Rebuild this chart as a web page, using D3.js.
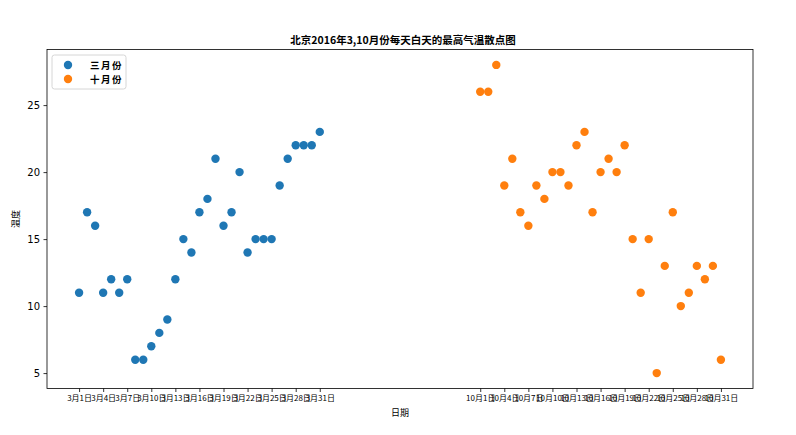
<!DOCTYPE html>
<html><head><meta charset="utf-8">
<script src="https://cdn.jsdelivr.net/npm/d3@7"></script>
<style>body{margin:0;background:#fff}svg{display:block}</style>
</head><body>
<svg id="chart" width="796" height="435"></svg>
<script>
const marchTemps = [11,17,16,11,12,11,12,6,6,7,8,9,12,15,14,17,18,21,16,17,20,14,15,15,15,19,21,22,22,22,23];
const octTemps = [26,26,28,19,21,17,16,19,18,20,20,19,22,23,17,20,21,20,22,15,11,15,5,13,17,10,11,13,12,13,6];
const marchX = d3.range(1, 32);
const octX = d3.range(51, 82);
const marchTickLabels = d3.range(1, 32, 3).map(d => `3月${d}日`);
const octTickLabels = d3.range(1, 32, 3).map(d => `10月${d}日`);
const yTicks = [5, 10, 15, 20, 25];
const seriesNames = ["三月份", "十月份"];
const colors = ["#1f77b4", "#ff7f0e"];
const title = "北京2016年3,10月份每天白天的最高气温散点图";

const font = "'Noto Sans CJK SC', 'DejaVu Sans', sans-serif";
const svg = d3.select("#chart");
const L = 47, R = 753, T = 49.5, B = 388.5;
const x = d3.scaleLinear().domain([-3, 85]).range([L, R]);
const y = d3.scaleLinear().domain([3.85, 29.15]).range([B, T]);

// points
const series = [marchX.map((d, i) => [d, marchTemps[i]]), octX.map((d, i) => [d, octTemps[i]])];
series.forEach((s, k) => {
  svg.append("g").selectAll("circle").data(s).join("circle")
    .attr("cx", d => x(d[0])).attr("cy", d => y(d[1])).attr("r", 4.2)
    .attr("fill", colors[k]);
});

// x axis
const xTickVals = marchX.filter((d, i) => i % 3 === 0).concat(octX.filter((d, i) => i % 3 === 0));
const xTickLabs = marchTickLabels.concat(octTickLabels);
const xAxis = d3.axisBottom(x).tickValues(xTickVals)
  .tickFormat((d, i) => xTickLabs[i]).tickSize(3.5).tickPadding(3.5).tickSizeOuter(0);
const gx = svg.append("g").attr("transform", `translate(0,${B})`).call(xAxis);
gx.select(".domain").remove();
gx.selectAll("text").attr("font-family", font).attr("font-size", 8).attr("fill", "#000");
gx.selectAll("line").attr("stroke", "#000").attr("stroke-width", 0.8);

// y axis
const yAxis = d3.axisLeft(y).tickValues(yTicks).tickSize(3.5).tickPadding(3.5).tickSizeOuter(0);
const gy = svg.append("g").attr("transform", `translate(${L},0)`).call(yAxis);
gy.select(".domain").remove();
gy.selectAll("text").attr("font-family", "'DejaVu Sans', sans-serif").attr("font-size", 10).attr("fill", "#000");
gy.selectAll("line").attr("stroke", "#000").attr("stroke-width", 0.8);

// frame
svg.append("rect").attr("x", L).attr("y", T).attr("width", R - L).attr("height", B - T)
  .attr("fill", "none").attr("stroke", "#000").attr("stroke-width", 0.8);

// title and labels
svg.append("text").attr("x", (L + R) / 2 + 3).attr("y", 44).attr("text-anchor", "middle")
  .attr("font-family", font).attr("font-size", 10.5).attr("font-weight", "bold").text(title);
svg.append("text").attr("x", (L + R) / 2).attr("y", 416).attr("text-anchor", "middle")
  .attr("font-family", font).attr("font-size", 9).text("日期");
svg.append("text").attr("transform", `translate(19,${(T + B) / 2}) rotate(-90)`).attr("text-anchor", "middle")
  .attr("font-family", font).attr("font-size", 9).text("温度");

// legend
const lg = svg.append("g").attr("transform", "translate(52,55)");
lg.append("rect").attr("width", 74).attr("height", 34).attr("rx", 2.5)
  .attr("fill", "#fff").attr("fill-opacity", 0.8).attr("stroke", "#ccc").attr("stroke-width", 0.8);
seriesNames.forEach((n, i) => {
  lg.append("circle").attr("cx", 16).attr("cy", 10 + i * 14).attr("r", 4.2).attr("fill", colors[i]);
  lg.append("text").attr("x", 38).attr("y", 13.5 + i * 14).attr("font-family", font)
    .attr("font-size", 9.5).attr("font-weight", "bold").attr("letter-spacing", 1.5).text(n);
});
</script>
</body></html>
